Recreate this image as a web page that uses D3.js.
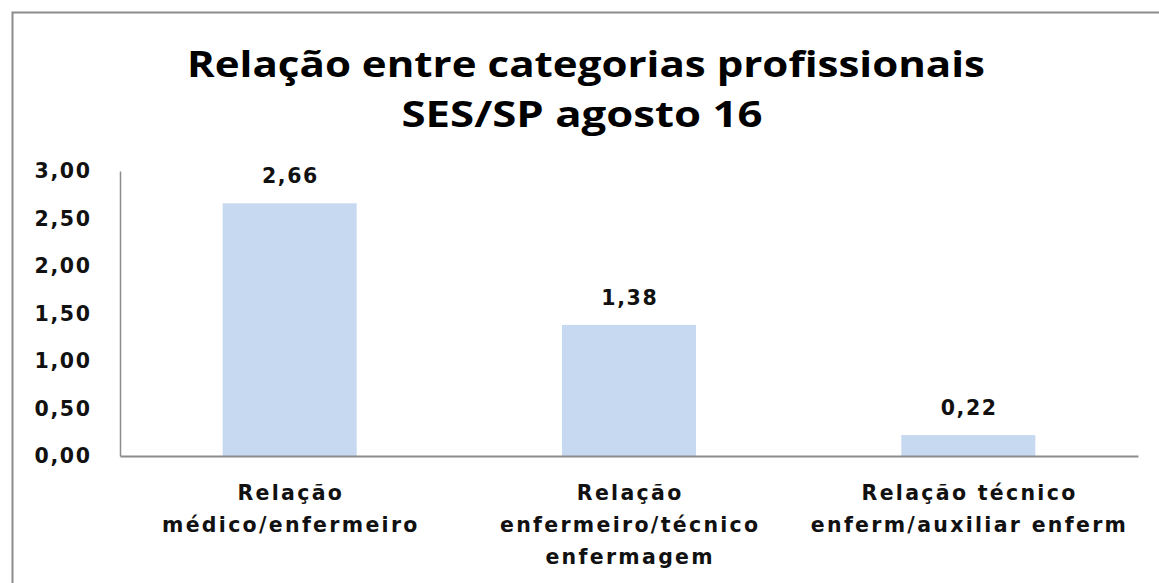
<!DOCTYPE html>
<html>
<head>
<meta charset="utf-8">
<script src="https://cdn.jsdelivr.net/npm/d3@7"></script>
<style>
  body { margin: 0; background: #fff; }
  svg { display: block; }
</style>
</head>
<body>
<svg id="chart"></svg>
<script>
var categories = [
  ["Relação", "médico/enfermeiro"],
  ["Relação", "enfermeiro/técnico", "enfermagem"],
  ["Relação técnico", "enferm/auxiliar enferm"]
];
var values = [2.66, 1.38, 0.22];
var yTicks = [0, 0.5, 1, 1.5, 2, 2.5, 3];
var titleLines = ["Relação entre categorias profissionais", "SES/SP agosto 16"];
var titleWidths = [798, 361];

var width = 1159, height = 583;
var margin = {top: 171, right: 21, bottom: 127, left: 120};

var svg = d3.select("#chart")
    .attr("width", width)
    .attr("height", height);

// frame (only top and left edges show in the picture)
svg.append("path")
    .attr("d", "M12.5," + height + "V12.5H" + width)
    .style("fill", "none")
    .style("stroke", "#8c8c8c")
    .style("stroke-width", 2);

var ptBR = d3.formatLocale({decimal: ",", thousands: ".", grouping: [3], currency: ["R$", ""]});
var fmt = ptBR.format(".2f");

var x = d3.scaleBand()
    .domain(d3.range(categories.length))
    .range([margin.left, width - margin.right])
    .paddingInner(0.605)
    .paddingOuter(0.3025);

var y = d3.scaleLinear()
    .domain([0, 3])
    .range([height - margin.bottom, margin.top]);

var labelFont = "'DejaVu Sans', Verdana, sans-serif";

// title
svg.append("g").selectAll("text").data(titleLines)
  .enter().append("text")
    .attr("x", function(d, i) { return i ? 582 : 586; })
    .attr("y", function(d, i) { return 77 + i * 50; })
    .attr("text-anchor", "middle")
    .attr("textLength", function(d, i) { return titleWidths[i]; })
    .attr("lengthAdjust", "spacingAndGlyphs")
    .style("font-family", "'Open Sans', 'Noto Sans', sans-serif")
    .style("font-weight", "bold")
    .style("font-size", "35px")
    .style("fill", "#000")
    .text(function(d) { return d; });

// bars
svg.append("g").selectAll("rect").data(values)
  .enter().append("rect")
    .attr("x", function(d, i) { return x(i); })
    .attr("y", function(d) { return y(d); })
    .attr("width", x.bandwidth())
    .attr("height", function(d) { return y(0) - y(d); })
    .style("fill", "#c6d9f0");

// y axis
var yAxis = svg.append("g")
    .attr("transform", "translate(" + margin.left + ",0)")
    .call(d3.axisLeft(y).tickValues(yTicks).tickFormat(fmt).tickSize(0).tickPadding(28.5));
yAxis.select(".domain").style("stroke", "#8c8c8c").style("stroke-width", 1.5);
yAxis.selectAll("text")
    .style("font-family", labelFont)
    .style("font-weight", "bold")
    .style("font-size", "20.5px")
    .style("letter-spacing", "1.6px")
    .style("fill", "#111");

// x axis line
var xAxis = svg.append("g")
    .attr("transform", "translate(0," + y(0) + ")")
    .call(d3.axisBottom(x).tickSize(0).tickFormat(""));
xAxis.select(".domain").style("stroke", "#8c8c8c").style("stroke-width", 2);

// value labels
svg.append("g").selectAll("text").data(values)
  .enter().append("text")
    .attr("x", function(d, i) { return x(i) + x.bandwidth() / 2 + 0.8; })
    .attr("y", function(d) { return y(d) - 20; })
    .attr("text-anchor", "middle")
    .style("font-family", labelFont)
    .style("font-weight", "bold")
    .style("font-size", "20.5px")
    .style("letter-spacing", "1.6px")
    .style("fill", "#111")
    .text(function(d) { return fmt(d); });

// category labels
var cat = svg.append("g").selectAll("text").data(categories)
  .enter().append("text")
    .attr("text-anchor", "middle")
    .style("font-family", labelFont)
    .style("font-weight", "bold")
    .style("font-size", "20.5px")
    .style("letter-spacing", "2.3px")
    .style("fill", "#111");
cat.selectAll("tspan").data(function(d, i) { return d.map(function(t) { return {t: t, i: i}; }); })
  .enter().append("tspan")
    .attr("x", function(d) { return x(d.i) + x.bandwidth() / 2 + 1.2; })
    .attr("y", function(d, j) { return 500 + j * 32; })
    .text(function(d) { return d.t; });
</script>
</body>
</html>
